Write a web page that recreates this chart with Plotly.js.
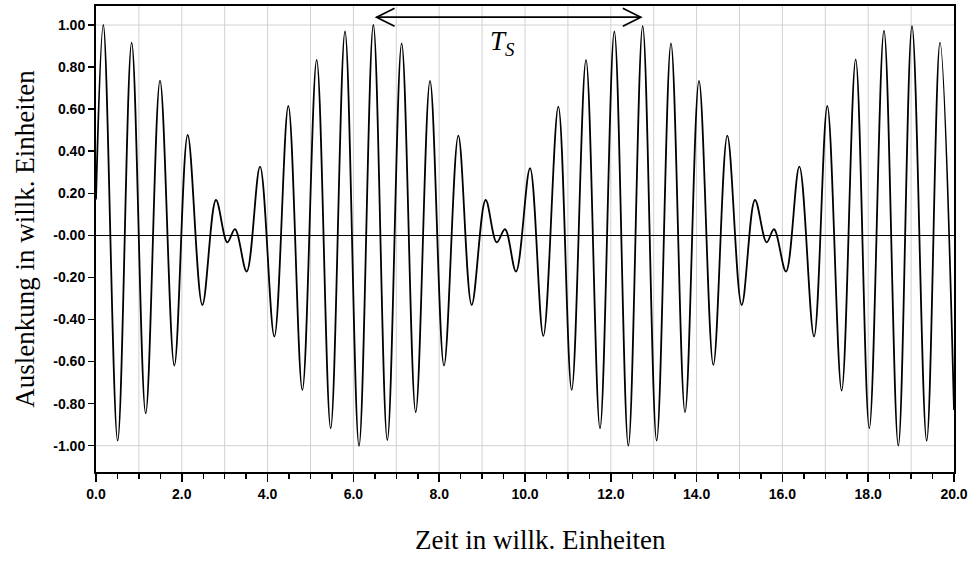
<!DOCTYPE html>
<html>
<head>
<meta charset="utf-8">
<script src="https://cdn.plot.ly/plotly-3.0.1.min.js"></script>
<style>
html, body { margin: 0; padding: 0; background: #ffffff; }
#chart { width: 972px; height: 561px; }
</style>
</head>
<body>
<div id="chart"></div>
<script>
// ---- data (extrema of the beat signal) ----
const zeit = [
  0.000, 0.171, 0.505, 0.831, 1.158, 1.492, 1.826, 2.137, 2.479, 2.797,
  3.061, 3.240, 3.512, 3.823, 4.157, 4.483, 4.810, 5.144, 5.470, 5.804,
  6.131, 6.465, 6.791, 7.125, 7.452, 7.786, 8.112, 8.446, 8.757, 9.083,
  9.340, 9.534, 9.790, 10.117, 10.427, 10.777, 11.088, 11.422, 11.748, 12.082,
  12.409, 12.743, 13.069, 13.403, 13.730, 14.056, 14.390, 14.716, 15.051, 15.361,
  15.633, 15.804, 16.084, 16.395, 16.737, 17.047, 17.381, 17.708, 18.026, 18.368,
  18.702, 19.021, 19.363, 19.674, 20.000
];
const auslenkung = [
  0.170, 1.000, -0.976, 0.916, -0.846, 0.736, -0.619, 0.477, -0.331, 0.168,
  -0.033, 0.030, -0.172, 0.327, -0.481, 0.615, -0.735, 0.834, -0.917, 0.969,
  -1.000, 1.000, -0.973, 0.913, -0.841, 0.734, -0.619, 0.474, -0.331, 0.168,
  -0.033, 0.029, -0.172, 0.319, -0.478, 0.612, -0.735, 0.834, -0.917, 0.969,
  -1.000, 0.995, -0.976, 0.913, -0.841, 0.734, -0.616, 0.474, -0.331, 0.168,
  -0.033, 0.029, -0.172, 0.327, -0.481, 0.615, -0.738, 0.837, -0.917, 0.973,
  -1.000, 0.995, -0.976, 0.916, -0.830
];

// ---- ticks, labels and grid ----
const xLabelVals = [0, 2, 4, 6, 8, 10, 12, 14, 16, 18, 20];
const xLabelText = ['0.0', '2.0', '4.0', '6.0', '8.0', '10.0', '12.0', '14.0', '16.0', '18.0', '20.0'];
const xGridVals = [1, 2, 3, 4, 5, 6, 7, 8, 9, 10, 11, 12, 13, 14, 15, 16, 17, 18, 19];
const yTickVals = [1, 0.8, 0.6, 0.4, 0.2, 0, -0.2, -0.4, -0.6, -0.8, -1];
const yTickText = ['1.00', '0.80', '0.60', '0.40', '0.20', '-0.00', '-0.20', '-0.40', '-0.60', '-0.80', '-1.00'];
const yGridVals = [-1, 1];

// ---- beat period marker (T_S) ----
const tsArrow = [6.54, 12.70];
const tsLevel = 1.037;
const tsText = '<i>T<sub>S</sub></i>';

const xTitle = 'Zeit in willk. Einheiten';
const yTitle = 'Auslenkung in willk. Einheiten';

const tickFont = { family: '"Liberation Sans", Arial, sans-serif', size: 14, weight: 'bold', color: '#000000' };
const serifFont = { family: '"Liberation Serif", "Times New Roman", serif', size: 27, color: '#000000' };
const gridStyle = { color: '#d2d2d2', width: 1 };
const xRange = [0, 20];
const yRange = [-1.125, 1.0903];

const trace = {
  type: 'scatter', mode: 'lines',
  x: zeit, y: auslenkung,
  line: { color: '#000000', width: 1.8, shape: 'spline', smoothing: 1 },
  hoverinfo: 'skip'
};

const shapes = [];
xGridVals.forEach(function (v) {
  shapes.push({ type: 'line', layer: 'below', xref: 'x', yref: 'paper', x0: v, x1: v, y0: 0, y1: 1, line: gridStyle });
});
yGridVals.forEach(function (v) {
  shapes.push({ type: 'line', layer: 'below', xref: 'paper', yref: 'y', x0: 0, x1: 1, y0: v, y1: v, line: gridStyle });
});
shapes.push(
  { type: 'line', xref: 'x', yref: 'y', x0: tsArrow[0], x1: tsArrow[1], y0: tsLevel, y1: tsLevel,
    line: { color: '#000000', width: 1.7 } },
  { type: 'path', xref: 'x', yref: 'y', xsizemode: 'pixel', ysizemode: 'pixel',
    xanchor: tsArrow[0], yanchor: tsLevel, path: 'M 18,-9 L 0,0 L 18,9',
    line: { color: '#000000', width: 1.7 } },
  { type: 'path', xref: 'x', yref: 'y', xsizemode: 'pixel', ysizemode: 'pixel',
    xanchor: tsArrow[1], yanchor: tsLevel, path: 'M -18,-9 L 0,0 L -18,9',
    line: { color: '#000000', width: 1.7 } }
);

const layout = {
  width: 972, height: 561,
  margin: { l: 96, r: 18, t: 6, b: 89, pad: 0 },
  paper_bgcolor: '#ffffff', plot_bgcolor: '#ffffff',
  showlegend: false,
  xaxis: {
    range: xRange, tickmode: 'array', tickvals: xLabelVals, ticktext: xLabelText,
    ticks: 'outside', ticklen: 8, tickwidth: 1.5, tickcolor: '#000000',
    showgrid: false,
    showline: true, linecolor: '#000000', linewidth: 2, mirror: true,
    zeroline: false,
    tickfont: tickFont,
    minor: { tickmode: 'linear', tick0: 0, dtick: 0.5, ticks: 'outside', ticklen: 5, tickwidth: 1.5, tickcolor: '#000000', showgrid: false }
  },
  yaxis: {
    range: yRange, tickmode: 'array', tickvals: yTickVals, ticktext: yTickText,
    ticks: 'outside', ticklen: 6, tickwidth: 1.5, tickcolor: '#000000',
    showgrid: false,
    showline: true, linecolor: '#000000', linewidth: 2, mirror: true,
    zeroline: true, zerolinecolor: '#000000', zerolinewidth: 1.5,
    tickfont: tickFont,
    title: { text: yTitle, font: serifFont, standoff: 11 }
  },
  shapes: shapes,
  annotations: [
    { xref: 'x', yref: 'y', x: 9.14, y: 0.915, xanchor: 'left', yanchor: 'middle',
      text: tsText, showarrow: false, font: serifFont },
    { xref: 'paper', yref: 'paper', x: 0.5175, y: -0.1468, xanchor: 'center', yanchor: 'middle',
      text: xTitle, showarrow: false, font: serifFont }
  ]
};

Plotly.newPlot('chart', [trace], layout, { staticPlot: true, displayModeBar: false });
</script>
</body>
</html>
